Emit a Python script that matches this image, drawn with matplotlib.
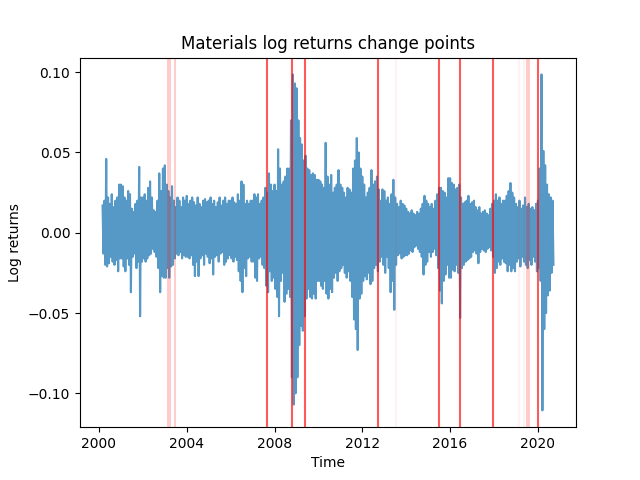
import pandas as pd
import matplotlib
matplotlib.use('Agg')
import matplotlib.pyplot as plt

# monthly extreme log returns (first month: 2000-03)
start_month = '2000-03-01'
month_high = [
    0.017, 0.020, 0.046, 0.022, 0.018, 0.024, 0.016, 0.020, 0.022, 0.030,  # 2000
    0.030, 0.029, 0.022, 0.020, 0.026, 0.024, 0.015, 0.013, 0.018, 0.020, 0.041, 0.022,  # 2001
    0.022, 0.024, 0.020, 0.028, 0.032, 0.022, 0.014, 0.013, 0.020, 0.037, 0.026, 0.040,  # 2002
    0.042, 0.030, 0.026, 0.022, 0.029, 0.020, 0.016, 0.022, 0.020, 0.016, 0.022, 0.020,  # 2003
    0.023, 0.018, 0.020, 0.022, 0.019, 0.017, 0.022, 0.018, 0.016, 0.020, 0.021, 0.019,  # 2004
    0.020, 0.022, 0.018, 0.020, 0.016, 0.019, 0.022, 0.017, 0.020, 0.022, 0.018, 0.020,  # 2005
    0.020, 0.022, 0.019, 0.018, 0.024, 0.020, 0.032, 0.030, 0.018, 0.020, 0.018, 0.020,  # 2006
    0.020, 0.024, 0.022, 0.024, 0.018, 0.020, 0.022, 0.028, 0.025, 0.037, 0.030, 0.026,  # 2007
    0.030, 0.026, 0.052, 0.040, 0.030, 0.032, 0.035, 0.040, 0.040, 0.070, 0.0986, 0.093,  # 2008
    0.090, 0.070, 0.059, 0.055, 0.045, 0.048, 0.040, 0.039, 0.036, 0.037, 0.036, 0.033,  # 2009
    0.033, 0.032, 0.030, 0.028, 0.056, 0.035, 0.030, 0.036, 0.025, 0.028, 0.030, 0.039,  # 2010
    0.030, 0.028, 0.025, 0.022, 0.028, 0.027, 0.025, 0.040, 0.045, 0.059, 0.050, 0.040,  # 2011
    0.035, 0.030, 0.022, 0.025, 0.028, 0.039, 0.030, 0.032, 0.035, 0.027, 0.020, 0.027,  # 2012
    0.026, 0.020, 0.022, 0.018, 0.024, 0.033, 0.022, 0.018, 0.016, 0.020, 0.018, 0.017,  # 2013
    0.015, 0.013, 0.012, 0.014, 0.012, 0.011, 0.013, 0.012, 0.015, 0.018, 0.023, 0.020,  # 2014
    0.018, 0.016, 0.018, 0.015, 0.020, 0.024, 0.028, 0.028, 0.026, 0.025, 0.022, 0.034,  # 2015
    0.034, 0.031, 0.030, 0.027, 0.028, 0.030, 0.022, 0.018, 0.019, 0.020, 0.023, 0.018,  # 2016
    0.019, 0.020, 0.016, 0.014, 0.016, 0.012, 0.013, 0.014, 0.012, 0.011, 0.015, 0.018,  # 2017
    0.020, 0.024, 0.020, 0.022, 0.018, 0.020, 0.020, 0.023, 0.026, 0.031, 0.025, 0.022,  # 2018
    0.018, 0.016, 0.020, 0.015, 0.017, 0.022, 0.016, 0.018, 0.015, 0.016, 0.014, 0.018,  # 2019
    0.020, 0.040, 0.0986, 0.051, 0.042, 0.030, 0.024, 0.022, 0.020,  # 2020
]
month_low = [
    -0.013, -0.020, -0.021, -0.019, -0.015, -0.018, -0.020, -0.017, -0.024, -0.016,  # 2000
    -0.016, -0.021, -0.024, -0.016, -0.020, -0.037, -0.015, -0.013, -0.022, -0.018, -0.052, -0.018,  # 2001
    -0.016, -0.018, -0.016, -0.014, -0.013, -0.010, -0.012, -0.015, -0.022, -0.037, -0.027, -0.028,  # 2002
    -0.028, -0.022, -0.028, -0.021, -0.020, -0.016, -0.013, -0.014, -0.012, -0.016, -0.014, -0.015,  # 2003
    -0.015, -0.016, -0.014, -0.020, -0.027, -0.018, -0.027, -0.016, -0.014, -0.020, -0.013, -0.015,  # 2004
    -0.019, -0.016, -0.026, -0.015, -0.014, -0.018, -0.013, -0.012, -0.020, -0.018, -0.016, -0.014,  # 2005
    -0.016, -0.018, -0.015, -0.017, -0.024, -0.030, -0.037, -0.022, -0.027, -0.016, -0.015, -0.018,  # 2006
    -0.018, -0.028, -0.030, -0.016, -0.015, -0.020, -0.022, -0.033, -0.037, -0.024, -0.030, -0.028,  # 2007
    -0.035, -0.040, -0.052, -0.030, -0.025, -0.043, -0.038, -0.035, -0.040, -0.090, -0.107, -0.100,  # 2008
    -0.090, -0.070, -0.058, -0.061, -0.052, -0.041, -0.035, -0.040, -0.041, -0.038, -0.041, -0.030,  # 2009
    -0.030, -0.033, -0.035, -0.030, -0.038, -0.041, -0.035, -0.037, -0.028, -0.025, -0.030, -0.024,  # 2010
    -0.022, -0.020, -0.025, -0.028, -0.024, -0.030, -0.040, -0.054, -0.060, -0.073, -0.041, -0.038,  # 2011
    -0.030, -0.027, -0.029, -0.025, -0.032, -0.030, -0.022, -0.020, -0.024, -0.018, -0.015, -0.020,  # 2012
    -0.025, -0.015, -0.022, -0.037, -0.030, -0.048, -0.020, -0.014, -0.013, -0.016, -0.015, -0.014,  # 2013
    -0.014, -0.013, -0.011, -0.012, -0.009, -0.008, -0.010, -0.012, -0.015, -0.026, -0.020, -0.018,  # 2014
    -0.012, -0.015, -0.012, -0.010, -0.014, -0.022, -0.036, -0.044, -0.030, -0.026, -0.020, -0.028,  # 2015
    -0.028, -0.023, -0.024, -0.020, -0.025, -0.053, -0.022, -0.020, -0.018, -0.017, -0.016, -0.015,  # 2016
    -0.012, -0.011, -0.013, -0.019, -0.012, -0.010, -0.011, -0.012, -0.010, -0.009, -0.011, -0.015,  # 2017
    -0.025, -0.022, -0.018, -0.020, -0.016, -0.018, -0.019, -0.024, -0.020, -0.024, -0.022, -0.024,  # 2018
    -0.018, -0.016, -0.021, -0.015, -0.018, -0.020, -0.022, -0.017, -0.020, -0.015, -0.018, -0.024,  # 2019
    -0.022, -0.030, -0.1106, -0.060, -0.050, -0.039, -0.036, -0.025, -0.020,  # 2020
]

# detected change points
strong_cp = ['2007-08-25', '2008-10-12', '2009-05-30', '2012-09-16',
             '2015-07-05', '2016-06-18', '2017-12-14', '2020-01-04']
weak_cp = ['2003-02-25', '2003-03-28', '2003-06-28', '2019-07-02', '2019-07-31']
faint_cp = ['2013-07-19', '2019-02-24', '2019-05-08']

months = pd.date_range(start_month, periods=len(month_high), freq='MS')
x = []
y = []
for m, hi, lo in zip(months, month_high, month_low):
    x += [m, m + pd.Timedelta(days=15)]
    y += [hi, lo]

fig, ax = plt.subplots(figsize=(6.4, 4.8), dpi=100)
ax.plot(x, y, color='tab:blue', alpha=0.75)

for d in strong_cp:
    ax.axvline(pd.Timestamp(d), color='red', alpha=0.65)
for d in weak_cp:
    ax.axvline(pd.Timestamp(d), color='red', alpha=0.2)
for d in faint_cp:
    ax.axvline(pd.Timestamp(d), color='red', alpha=0.05)

ax.set_title('Materials log returns change points')
ax.set_xlabel('Time')
ax.set_ylabel('Log returns')

fig.savefig('out.png')
